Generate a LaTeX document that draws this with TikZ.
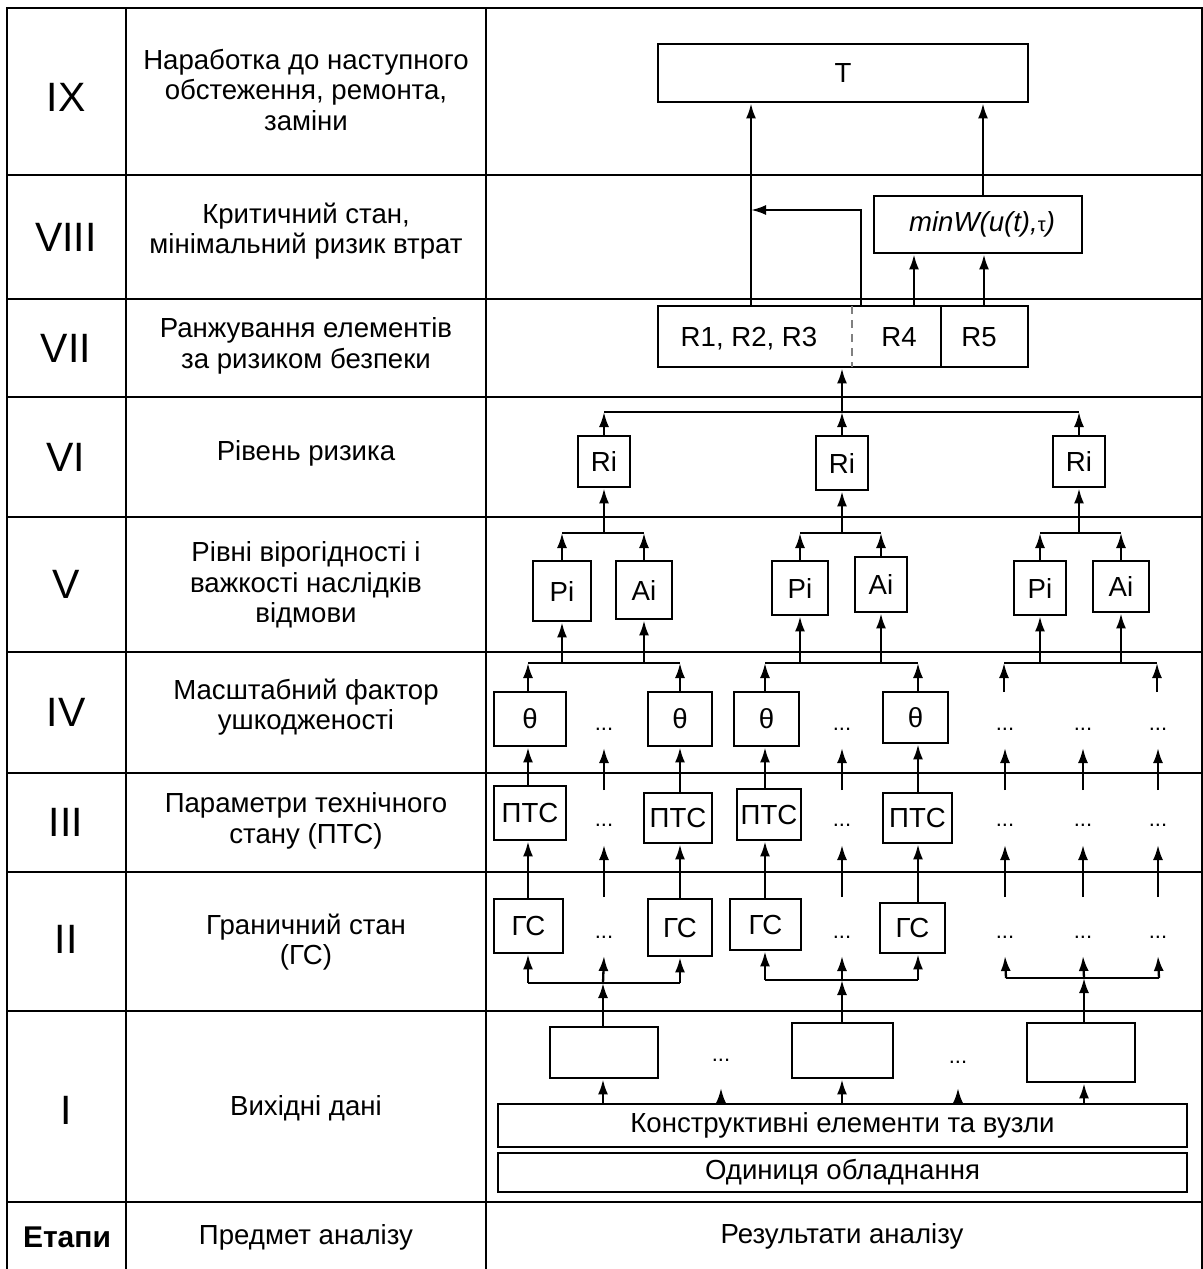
\documentclass[tikz,border=0pt]{standalone}
\usepackage{fontspec}
\setmainfont{Liberation Sans}
\usetikzlibrary{arrows.meta,fit}

\begin{document}
\begin{tikzpicture}[x=0.5pt,y=-0.5pt,
  grid/.style={line width=1.3pt},
  bx/.style={draw,line width=1.4pt,inner sep=0pt},
  txt/.style={inner sep=0pt,font=\fontsize{13.8}{15}\selectfont},
  lbl/.style={label={[txt]center:#1}},
  arr/.style={line width=1.15pt,-{Latex[length=7.5pt,width=5pt]}},
  ln/.style={line width=1.15pt},
  num/.style={font=\fontsize{20.5}{20.5}\selectfont},
  stage/.style={font=\fontsize{13.8}{15.2}\selectfont,align=center},
  dotsn/.style={font=\fontsize{11}{11}\selectfont,inner sep=0pt},
]
\useasboundingbox (0,0) rectangle (1203,1269);

% table grid
\draw[grid] (7,1269) -- (7,8) -- (1202,8) -- (1202,1269);
\foreach \yy in {175,299,397,517,652,773,872,1011,1202}
  \draw[grid] (7,\yy) -- (1202,\yy);
\draw[grid] (126,8) -- (126,1269);
\draw[grid] (486,8) -- (486,1269);

% stage numbers
\node[num] (n9) at (66,97)  {IX};
\node[num] (n8) at (66,237) {VIII};
\node[num] (n7) at (66,348) {VII};
\node[num] (n6) at (66,457) {VI};
\node[num] (n5) at (66,584) {V};
\node[num] (n4) at (66,712) {IV};
\node[num] (n3) at (66,822) {III};
\node[num] (n2) at (66,939) {II};
\node[num] (n1) at (66,1110) {I};
\node[font=\fontsize{15}{15}\selectfont\bfseries] (n0) at (67,1237) {Етапи};

% subjects of analysis
\node[stage] (s9) at (306,90)  {Наработка до наступного\\обстеження, ремонта,\\заміни};
\node[stage] (s8) at (306,231) {Критичний стан,\\мінімальний ризик втрат};
\node[stage] (s7) at (306,346) {Ранжування елементів\\за ризиком безпеки};
\node[stage] (s6) at (306,453) {Рівень ризика};
\node[stage] (s5) at (306,585) {Рівні вірогідності і\\важкості наслідків\\відмови};
\node[stage] (s4) at (306,707) {Масштабний фактор\\ушкодженості};
\node[stage] (s3) at (306,821) {Параметри технічного\\стану (ПТС)};
\node[stage] (s2) at (306,942) {Граничний стан\\(ГС)};
\node[stage] (s1) at (306,1108) {Вихідні дані};
\node[stage] (s0) at (306,1237) {Предмет аналізу};
\node[stage] (r0) at (842,1236) {Результати аналізу};

% ---- stages VII-IX
\node[bx,fit={(658,44)(1028,102)},lbl=T] (T) {};
\node[bx,fit={(874,196)(1082,253)}] (W) {};
\node[txt] (Wt) at (982,224) {\itshape minW(u(t),{\upshape\fontsize{10}{10}\selectfont τ})};
\node[bx,fit={(658,306)(1028,367)}] (R) {};
\draw[dashed,gray,line width=0.8pt,dash pattern=on 4pt off 3pt] (852,306) -- (852,367);
\draw[line width=1.4pt] (941,306) -- (941,367);
\node[txt,anchor=base] (r123) at (749,346) {R1, R2, R3};
\node[txt,anchor=base] (r4) at (899,346) {R4};
\node[txt,anchor=base] (r5) at (979,346) {R5};

\coordinate (ra) at (751,306);
\coordinate (rb) at (861,306);
\coordinate (rc) at (914,306);
\coordinate (rd) at (984,306);
\coordinate (join) at (751,210);
\coordinate (wt) at (983,196);
\draw[arr] (ra) -- (ra |- T.south);
\draw[arr] (rb) |- (join);
\draw[arr] (rc) -- (rc |- W.south);
\draw[arr] (rd) -- (rd |- W.south);
\draw[arr] (wt) -- (wt |- T.south);

% ---- stage VI
\node[bx,fit={(578,436)(630,487)},lbl=Ri] (Ri1) {};
\node[bx,fit={(816,436)(868,490)},lbl=Ri] (Ri2) {};
\node[bx,fit={(1053,436)(1105,487)},lbl=Ri] (Ri3) {};
\coordinate (busR) at (842,412);
\draw[ln] (Ri1.north |- busR) -- (Ri3.north |- busR);
\foreach \k in {1,2,3} \draw[arr] (Ri\k.north) -- (Ri\k.north |- busR);
\draw[arr] (busR) -- (busR |- R.south);

% ---- stage V
\node[bx,fit={(533,561)(591,621)},lbl=Pi] (Pi1) {};
\node[bx,fit={(616,561)(672,619)},lbl=Ai] (Ai1) {};
\node[bx,fit={(772,561)(828,615)},lbl=Pi] (Pi2) {};
\node[bx,fit={(855,557)(907,612)},lbl=Ai] (Ai2) {};
\node[bx,fit={(1014,561)(1066,615)},lbl=Pi] (Pi3) {};
\node[bx,fit={(1093,561)(1149,612)},lbl=Ai] (Ai3) {};
\foreach \k in {1,2,3}{
  \path (Ri\k.south |- 0,533) coordinate (bv\k);
  \draw[ln] (Pi\k.north |- bv\k) -- (Ai\k.north |- bv\k);
  \draw[arr] (Pi\k.north) -- (Pi\k.north |- bv\k);
  \draw[arr] (Ai\k.north) -- (Ai\k.north |- bv\k);
  \draw[arr] (bv\k) -- (Ri\k.south);
}

% column positions of the element chains
\coordinate (cA) at (528,0);
\coordinate (cB) at (680,0);
\coordinate (cC) at (765,0);
\coordinate (cD) at (918,0);

% ---- stage IV
\node[bx,fit={(494,692)(566,746)},lbl=θ] (Ta) {};
\node[bx,fit={(648,692)(712,746)},lbl=θ] (Tb) {};
\node[bx,fit={(734,692)(799,746)},lbl=θ] (Tc) {};
\node[bx,fit={(883,692)(948,743)},lbl=θ] (Td) {};
\coordinate (b4) at (0,663);
\draw[ln] (cA |- b4) -- (cB |- b4);
\draw[ln] (cC |- b4) -- (cD |- b4);
\draw[arr] (Ta.north -| cA) -- (cA |- b4);
\draw[arr] (Tb.north -| cB) -- (cB |- b4);
\draw[arr] (Tc.north -| cC) -- (cC |- b4);
\draw[arr] (Td.north -| cD) -- (cD |- b4);
\draw[arr] (Pi1.south |- b4) -- (Pi1.south);
\draw[arr] (Ai1.south |- b4) -- (Ai1.south);
\draw[arr] (Pi2.south |- b4) -- (Pi2.south);
\draw[arr] (Ai2.south |- b4) -- (Ai2.south);
% third group: open inputs
\coordinate (g3l) at (1004,692);
\coordinate (g3r) at (1157,692);
\draw[ln] (g3l |- b4) -- (g3r |- b4);
\draw[arr] (g3l) -- (g3l |- b4);
\draw[arr] (g3r) -- (g3r |- b4);
\draw[arr] (Pi3.south |- b4) -- (Pi3.south);
\draw[arr] (Ai3.south |- b4) -- (Ai3.south);

% ---- stage III
\node[bx,fit={(494,786)(566,840)},lbl=ПТС] (Pa) {};
\node[bx,fit={(644,793)(712,843)},lbl=ПТС] (Pb) {};
\node[bx,fit={(737,789)(801,840)},lbl=ПТС] (Pc) {};
\node[bx,fit={(883,793)(952,843)},lbl=ПТС] (Pd) {};
\draw[arr] (Pa.north -| cA) -- (Ta.south -| cA);
\draw[arr] (Pb.north -| cB) -- (Tb.south -| cB);
\draw[arr] (Pc.north -| cC) -- (Tc.south -| cC);
\draw[arr] (Pd.north -| cD) -- (Td.south -| cD);

% ---- stage II
\node[bx,fit={(494,899)(563,953)},lbl=ГС] (Ga) {};
\node[bx,fit={(648,899)(712,956)},lbl=ГС] (Gb) {};
\node[bx,fit={(730,899)(801,950)},lbl=ГС] (Gc) {};
\node[bx,fit={(880,903)(945,953)},lbl=ГС] (Gd) {};
\draw[arr] (Ga.north -| cA) -- (Pa.south -| cA);
\draw[arr] (Gb.north -| cB) -- (Pb.south -| cB);
\draw[arr] (Gc.north -| cC) -- (Pc.south -| cC);
\draw[arr] (Gd.north -| cD) -- (Pd.south -| cD);

% dots and open inputs of the omitted elements
\foreach \xx/\n in {604/a,842/b,1005/c,1083/d,1158/e}{
  \node[dotsn] (d4\n) at (\xx,729) {...};
  \node[dotsn] (d3\n) at (\xx,825) {...};
  \node[dotsn] (d2\n) at (\xx,937) {...};
  \coordinate (u4\n) at (\xx,790);
  \coordinate (t4\n) at (\xx,748);
  \coordinate (u3\n) at (\xx,897);
  \coordinate (t3\n) at (\xx,845);
  \coordinate (t2\n) at (\xx,956);
  \draw[arr] (u4\n) -- (t4\n);
  \draw[arr] (u3\n) -- (t3\n);
}

% ---- stage I
\node[bx,fit={(550,1027)(658,1078)}] (E1) {};
\node[bx,fit={(792,1023)(893,1078)}] (E2) {};
\node[bx,fit={(1027,1023)(1135,1082)}] (E3) {};
\node[bx,fit={(498,1104)(1187,1147)},lbl={Конструктивні елементи та вузли}] (K) {};
\node[bx,fit={(498,1153)(1187,1192)},lbl={Одиниця обладнання}] (O) {};
\node[dotsn] (e12) at (721,1060) {...};
\node[dotsn] (e23) at (958,1062) {...};

% distribution buses of stage II
\coordinate (g1) at (603,983);
\coordinate (g2) at (842,980);
\coordinate (g3) at (1084,978);
\coordinate (g3a) at (1006,978);
\coordinate (g3c) at (1159,978);
\draw[ln] (cA |- g1) -- (cB |- g1);
\draw[arr] (cA |- g1) -- (Ga.south -| cA);
\draw[arr] (cB |- g1) -- (Gb.south -| cB);
\draw[arr] (g1) -- (t2a);
\draw[ln] (cC |- g2) -- (cD |- g2);
\draw[arr] (cC |- g2) -- (Gc.south -| cC);
\draw[arr] (cD |- g2) -- (Gd.south -| cD);
\draw[arr] (g2) -- (t2b);
\draw[ln] (g3a) -- (g3c);
\draw[arr] (g3a) -- (t2c);
\draw[arr] (g3) -- (t2d);
\draw[arr] (g3c) -- (t2e);
\draw[arr] (E1.north -| g1) -- (g1);
\draw[arr] (E2.north -| g2) -- (g2);
\draw[arr] (E3.north -| g3) -- (g3);

% inputs from the structural elements
\draw[arr] (K.north -| g1) -- (E1.south -| g1);
\draw[arr] (K.north -| g2) -- (E2.south -| g2);
\draw[arr] (K.north -| g3) -- (E3.south -| g3);
\coordinate (k12) at (721,1088);
\coordinate (k23) at (958,1088);
\draw[arr] (K.north -| k12) -- (k12);
\draw[arr] (K.north -| k23) -- (k23);
\end{tikzpicture}
\end{document}
